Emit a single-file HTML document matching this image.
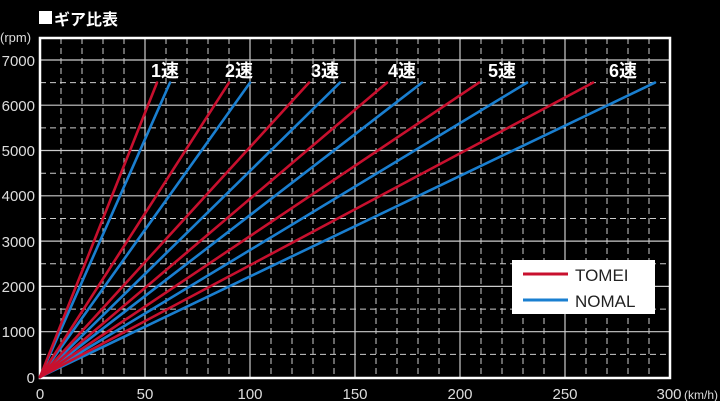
<!DOCTYPE html>
<html><head><meta charset="utf-8"><style>
html,body{margin:0;padding:0;background:#000;}
svg{display:block;}
text{font-family:"Liberation Sans","Noto Sans CJK JP",sans-serif;}
</style></head><body>
<svg width="720" height="401" viewBox="0 0 720 401" xmlns="http://www.w3.org/2000/svg">
<rect width="720" height="401" fill="#000"/>
<rect x="39" y="11" width="13" height="13" fill="#fff"/>
<text x="54" y="25" fill="#fff" font-size="16" font-weight="bold">ギア比表</text>
<text x="0" y="42" fill="#ddd" font-size="13">(rpm)</text>
<g stroke="#ccc" stroke-width="1" stroke-dasharray="6,4">
<line x1="61" y1="38" x2="61" y2="377"/><line x1="82" y1="38" x2="82" y2="377"/><line x1="103" y1="38" x2="103" y2="377"/><line x1="124" y1="38" x2="124" y2="377"/>
<line x1="166" y1="38" x2="166" y2="377"/><line x1="187" y1="38" x2="187" y2="377"/><line x1="208" y1="38" x2="208" y2="377"/><line x1="229" y1="38" x2="229" y2="377"/>
<line x1="271" y1="38" x2="271" y2="377"/><line x1="292" y1="38" x2="292" y2="377"/><line x1="313" y1="38" x2="313" y2="377"/><line x1="334" y1="38" x2="334" y2="377"/>
<line x1="376" y1="38" x2="376" y2="377"/><line x1="397" y1="38" x2="397" y2="377"/><line x1="418" y1="38" x2="418" y2="377"/><line x1="439" y1="38" x2="439" y2="377"/>
<line x1="481" y1="38" x2="481" y2="377"/><line x1="502" y1="38" x2="502" y2="377"/><line x1="523" y1="38" x2="523" y2="377"/><line x1="544" y1="38" x2="544" y2="377"/>
<line x1="586" y1="38" x2="586" y2="377"/><line x1="607" y1="38" x2="607" y2="377"/><line x1="628" y1="38" x2="628" y2="377"/><line x1="649" y1="38" x2="649" y2="377"/>
<line x1="40" y1="354.4" x2="670" y2="354.4"/><line x1="40" y1="309.1" x2="670" y2="309.1"/><line x1="40" y1="263.8" x2="670" y2="263.8"/><line x1="40" y1="218.5" x2="670" y2="218.5"/>
<line x1="40" y1="173.2" x2="670" y2="173.2"/><line x1="40" y1="127.9" x2="670" y2="127.9"/><line x1="40" y1="82.6" x2="670" y2="82.6"/>
</g>
<g stroke="#ccc" stroke-width="1.2">
<line x1="145" y1="38" x2="145" y2="377"/><line x1="250" y1="38" x2="250" y2="377"/><line x1="355" y1="38" x2="355" y2="377"/><line x1="460" y1="38" x2="460" y2="377"/><line x1="565" y1="38" x2="565" y2="377"/>
<line x1="40" y1="331.7" x2="670" y2="331.7"/><line x1="40" y1="286.4" x2="670" y2="286.4"/><line x1="40" y1="241.1" x2="670" y2="241.1"/><line x1="40" y1="195.8" x2="670" y2="195.8"/><line x1="40" y1="150.5" x2="670" y2="150.5"/><line x1="40" y1="105.2" x2="670" y2="105.2"/><line x1="40" y1="60" x2="670" y2="60"/>
</g>
<rect x="40" y="38" width="630" height="340" fill="none" stroke="#fff" stroke-width="2.5"/>
<g stroke-width="2.6" stroke-linecap="round">
<line x1="40" y1="377" x2="170" y2="82.6" stroke="#1a7fd0"/><line x1="40" y1="377" x2="250" y2="82.6" stroke="#1a7fd0"/><line x1="40" y1="377" x2="340" y2="82.6" stroke="#1a7fd0"/><line x1="40" y1="377" x2="422" y2="82.6" stroke="#1a7fd0"/><line x1="40" y1="377" x2="527" y2="82.6" stroke="#1a7fd0"/><line x1="40" y1="377" x2="655" y2="82.6" stroke="#1a7fd0"/>
<line x1="40" y1="377" x2="157" y2="82.6" stroke="#c8102e"/><line x1="40" y1="377" x2="229" y2="82.6" stroke="#c8102e"/><line x1="40" y1="377" x2="309" y2="82.6" stroke="#c8102e"/><line x1="40" y1="377" x2="387" y2="82.6" stroke="#c8102e"/><line x1="40" y1="377" x2="479" y2="82.6" stroke="#c8102e"/><line x1="40" y1="377" x2="593" y2="82.6" stroke="#c8102e"/>
</g>
<g fill="#fff" font-size="18" font-weight="bold">
<text x="151" y="77">1速</text><text x="225" y="77">2速</text><text x="311" y="77">3速</text><text x="388" y="77">4速</text><text x="488" y="77">5速</text><text x="609" y="77">6速</text>
</g>
<g fill="#ddd" font-size="15" text-anchor="end">
<text x="35" y="383">0</text><text x="35" y="337">1000</text><text x="35" y="292">2000</text><text x="35" y="247">3000</text><text x="35" y="201">4000</text><text x="35" y="156">5000</text><text x="35" y="111">6000</text><text x="35" y="66">7000</text>
</g>
<g fill="#ddd" font-size="15" text-anchor="middle">
<text x="40" y="399">0</text><text x="145" y="399">50</text><text x="250" y="399">100</text><text x="355" y="399">150</text><text x="460" y="399">200</text><text x="565" y="399">250</text><text x="669" y="399">300</text>
</g>
<text x="684" y="399" fill="#ddd" font-size="12">(km/h)</text>
<rect x="512" y="260" width="143" height="54" fill="#fff"/>
<line x1="523" y1="274" x2="568" y2="274" stroke="#c8102e" stroke-width="3"/>
<line x1="523" y1="300" x2="568" y2="300" stroke="#1a7fd0" stroke-width="3"/>
<text x="575" y="281" fill="#222" font-size="17">TOMEI</text>
<text x="575" y="307" fill="#222" font-size="17">NOMAL</text>
</svg>
</body></html>
